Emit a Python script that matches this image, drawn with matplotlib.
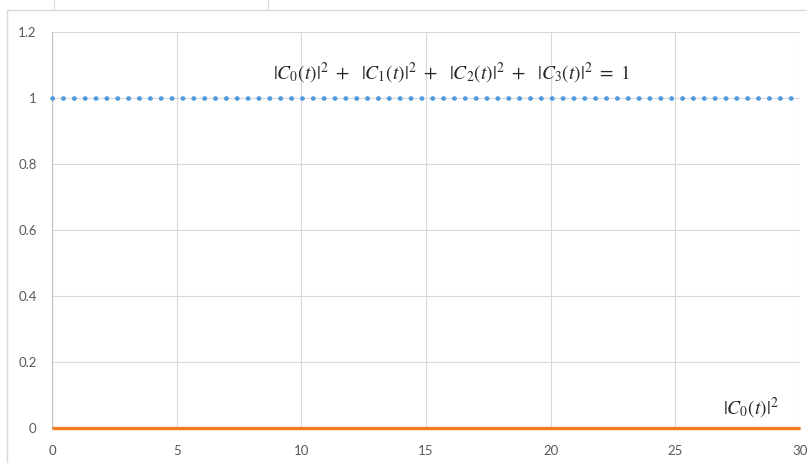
import numpy as np
import matplotlib.pyplot as plt
from matplotlib.patches import Rectangle

plt.rcParams['font.family'] = ['Lato', 'DejaVu Sans']
plt.rcParams['mathtext.fontset'] = 'stix'

# populations over time
t = [0, 5, 10, 15, 20, 25, 30]
total_prob = [1, 1, 1, 1, 1, 1, 1]
c0_prob = [0, 0, 0, 0, 0, 0, 0]

x_ticks = [0, 5, 10, 15, 20, 25, 30]
y_ticks = [0, 0.2, 0.4, 0.6, 0.8, 1, 1.2]
y_labels = ['0', '0.2', '0.4', '0.6', '0.8', '1', '1.2']

fig = plt.figure(figsize=(8.07, 4.63), dpi=100)
W, H = 807, 463

# chart frame and sheet lines behind it
fig.patches.append(Rectangle((7 / W, -0.1), 1.2, (H - 10) / H + 0.1,
                             transform=fig.transFigure, fill=False,
                             edgecolor='#d9d9d9', linewidth=1))
for xp in [54, 268]:
    fig.add_artist(plt.Line2D([xp / W, xp / W], [(H - 10) / H, 1],
                              transform=fig.transFigure, color='#d9d9d9', lw=0.8))

ax = fig.add_axes([52 / W, (H - 428) / H, (800 - 52) / W, (428 - 32) / H])

ax.plot(t, total_prob, color='#4f9be0', linewidth=3.4,
        dashes=(0.05, 2.25), dash_capstyle='round', zorder=3, clip_on=False)
ax.plot(t, c0_prob, color='#f27a20', linewidth=2.4, zorder=4, clip_on=False,
        solid_capstyle='butt')

ax.set_xlim(0, 30)
ax.set_ylim(0, 1.2)
ax.set_xticks(x_ticks)
ax.set_yticks(y_ticks)
ax.set_yticklabels(y_labels)
ax.grid(True, color='#d9d9d9', linewidth=0.8)
ax.set_axisbelow(True)
ax.tick_params(length=0, labelsize=9.5, colors='#595959')
ax.tick_params(axis='x', pad=12)
ax.tick_params(axis='y', pad=11)
for side in ['top', 'right']:
    ax.spines[side].set_visible(False)
ax.spines['left'].set_color('#bfbfbf')
ax.spines['bottom'].set_color('#bfbfbf')

ax.text(452 / W, (H - 73) / H,
        r'$|C_0(t)|^2\ +\ \ |C_1(t)|^2\ +\ \ |C_2(t)|^2\ +\ \ |C_3(t)|^2\ =\ 1$',
        transform=fig.transFigure, ha='center', va='center', fontsize=14,
        color='#262626')
ax.text(751 / W, (H - 408) / H, r'$|C_0(t)|^2$',
        transform=fig.transFigure, ha='center', va='center', fontsize=14,
        color='#262626')

fig.savefig('out.png', dpi=100)
